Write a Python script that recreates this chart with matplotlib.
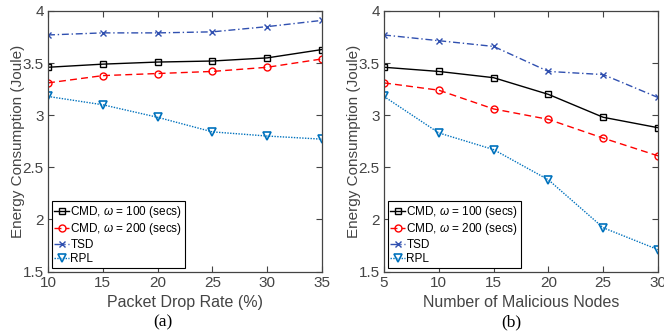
import matplotlib
matplotlib.use("Agg")
import matplotlib.pyplot as plt

plt.rcParams['font.family'] = ['Liberation Sans', 'DejaVu Sans']
plt.rcParams['mathtext.fontset'] = 'custom'
plt.rcParams['mathtext.it'] = 'Liberation Sans:italic'

# ----- datos -----
drop_rate = [10, 15, 20, 25, 30, 35]
cmd100_a = [3.46, 3.49, 3.51, 3.52, 3.55, 3.63]
cmd200_a = [3.31, 3.38, 3.40, 3.42, 3.46, 3.54]
tsd_a = [3.77, 3.79, 3.79, 3.80, 3.85, 3.91]
rpl_a = [3.18, 3.10, 2.98, 2.84, 2.80, 2.77]

malicious = [5, 10, 15, 20, 25, 30]
cmd100_b = [3.46, 3.42, 3.36, 3.20, 2.98, 2.88]
cmd200_b = [3.31, 3.24, 3.06, 2.96, 2.78, 2.61]
tsd_b = [3.77, 3.715, 3.66, 3.42, 3.39, 3.17]
rpl_b = [3.18, 2.83, 2.67, 2.38, 1.92, 1.71]

labels = [r"CMD, $\omega$ = 100 (secs)", r"CMD, $\omega$ = 200 (secs)", "TSD", "RPL"]
yticks = [1.5, 2, 2.5, 3, 3.5, 4]

AXCOL = "#444444"


def panel(ax, x, series, xlabel, caption, cap_x):
    cmd100, cmd200, tsd, rpl = series
    ax.plot(x, cmd100, color="black", ls="-", lw=1.0, marker="s", ms=4.5,
            mfc="none", mew=1.0, label=labels[0])
    ax.plot(x, cmd200, color="#ff0000", ls=(0, (5, 3)), lw=1.0, marker="o", ms=5,
            mfc="none", mew=1.0, label=labels[1])
    ax.plot(x, tsd, color="#3050b0", ls=(0, (5, 2, 1, 2)), lw=1.0, marker="x", ms=4,
            mew=1.0, label=labels[2])
    ax.plot(x, rpl, color="#0072bd", ls=(0, (1, 1)), lw=1.0, marker="v", ms=5.5,
            mfc="none", mew=1.2, label=labels[3])
    ax.set_xlim(x[0], x[-1])
    ax.set_ylim(1.5, 4)
    ax.set_xticks(x)
    ax.set_yticks(yticks)
    ax.set_yticklabels([f"{t:g}" for t in yticks])
    ax.tick_params(direction="in", top=True, right=True, length=4, width=0.8,
                   colors=AXCOL, labelsize=11, pad=3)
    for s in ax.spines.values():
        s.set_color(AXCOL)
        s.set_linewidth(0.9)
    ax.set_xlabel(xlabel, fontsize=11.5, color=AXCOL, labelpad=4)
    ax.set_ylabel("Energy Consumption (Joule)", fontsize=11, color=AXCOL)
    ax.yaxis.set_label_coords(-0.085, 0.5)
    leg = ax.legend(loc="lower left", fontsize=8.5, handlelength=1.2, handletextpad=0.15,
                    labelspacing=0.15, borderpad=0.25, borderaxespad=0.3,
                    fancybox=False, framealpha=1, edgecolor="black")
    leg.get_frame().set_linewidth(0.8)
    fig.text(cap_x, 1 - 322 / 333, caption, ha="center", va="center",
             fontsize=12.5, family="Liberation Serif")


fig = plt.figure(figsize=(6.64, 3.33), dpi=100)
ax1 = fig.add_axes([48 / 664, 1 - 271.5 / 333, 274 / 664, 260.5 / 333])
ax2 = fig.add_axes([384 / 664, 1 - 271.5 / 333, 274 / 664, 260.5 / 333])

panel(ax1, drop_rate, (cmd100_a, cmd200_a, tsd_a, rpl_a), "Packet Drop Rate (%)", "(a)", 163 / 664)
panel(ax2, malicious, (cmd100_b, cmd200_b, tsd_b, rpl_b), "Number of Malicious Nodes", "(b)", 511 / 664)

fig.savefig("out.png", dpi=100)
